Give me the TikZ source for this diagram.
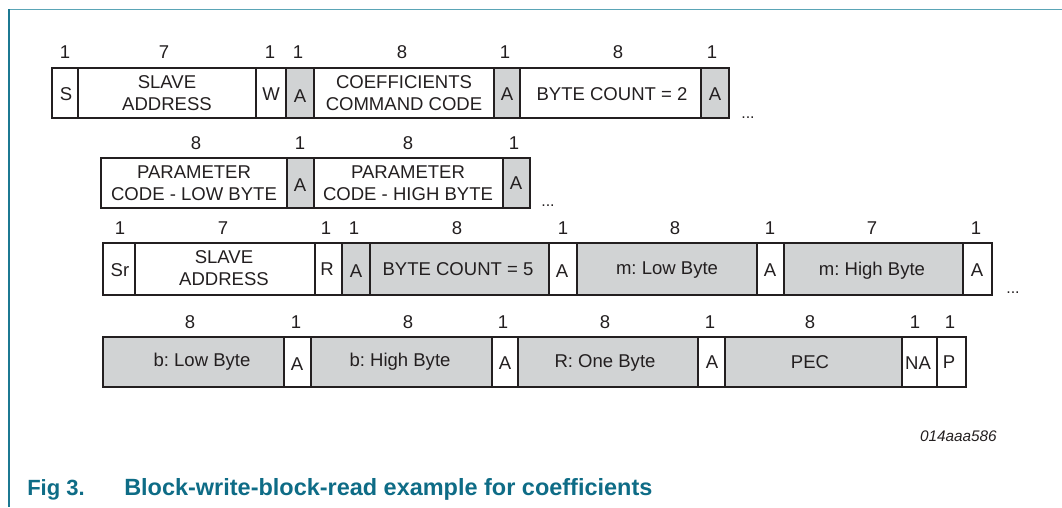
\documentclass[tikz,border=0pt]{standalone}
\usepackage{fontspec}
\usepackage{xcolor}
\usepackage{tikz}
\setmainfont{Liberation Sans}
\frenchspacing
\definecolor{inkgray}{RGB}{35, 31, 32}
\definecolor{ackgray}{RGB}{209, 211, 212}
\definecolor{capteal}{RGB}{14, 108, 134}
\definecolor{frameteal}{RGB}{28, 120, 146}
\definecolor{frametop}{RGB}{90, 165, 182}

\tikzset{
  fld/.style={draw=inkgray, line width=1.5pt},
  grayfld/.style={fld, fill=ackgray},
  lbl/.style={font=\fontsize{13.9}{16.5}\selectfont, align=center, inner sep=0.75pt, text=inkgray},
  bitlbl/.style={font=\fontsize{13.9}{16.5}\selectfont, inner sep=0.75pt, text=inkgray},
  dotlbl/.style={font=\fontsize{12}{14}\selectfont, inner sep=0pt, anchor=base, text=inkgray},
}

\begin{document}
\begin{tikzpicture}[x=0.75pt,y=0.75pt,yscale=-1,xscale=1]
\useasboundingbox (0,0) rectangle (1062,507);

%Frame
\draw [frametop, line width=1.2pt] (9,9.5) -- (1062,9.5) ;
\draw [frameteal, line width=1.2pt] (9,9) -- (9,507) ;

%Row 1: write part
\draw [fld]     (52,68) rectangle (78,118) ;
\draw [fld]     (78,68) rectangle (256,118) ;
\draw [fld]     (256,68) rectangle (286,118) ;
\draw [grayfld] (286,68) rectangle (314,118) ;
\draw [fld]     (314,68) rectangle (494,118) ;
\draw [grayfld] (494,68) rectangle (520,118) ;
\draw [fld]     (520,68) rectangle (701,118) ;
\draw [grayfld] (701,68) rectangle (729,118) ;

%Row 2
\draw [fld]     (101,158) rectangle (287,208) ;
\draw [grayfld] (287,158) rectangle (314,208) ;
\draw [fld]     (314,158) rectangle (503,208) ;
\draw [grayfld] (503,158) rectangle (530,208) ;

%Row 3: read part
\draw [fld]     (103,243) rectangle (135,295) ;
\draw [fld]     (135,243) rectangle (315,295) ;
\draw [fld]     (315,243) rectangle (342,295) ;
\draw [grayfld] (342,243) rectangle (370,295) ;
\draw [grayfld] (370,243) rectangle (549,295) ;
\draw [fld]     (549,243) rectangle (577,295) ;
\draw [grayfld] (577,243) rectangle (757,295) ;
\draw [fld]     (757,243) rectangle (784,295) ;
\draw [grayfld] (784,243) rectangle (963,295) ;
\draw [fld]     (963,243) rectangle (992,295) ;

%Row 4
\draw [grayfld] (103,337) rectangle (284,387) ;
\draw [fld]     (284,337) rectangle (311,387) ;
\draw [grayfld] (311,337) rectangle (492,387) ;
\draw [fld]     (492,337) rectangle (518,387) ;
\draw [grayfld] (518,337) rectangle (698,387) ;
\draw [fld]     (698,337) rectangle (725,387) ;
\draw [grayfld] (725,337) rectangle (902,387) ;
\draw [fld]     (902,337) rectangle (937,387) ;
\draw [fld]     (937,337) rectangle (966,387) ;

% Text Node
\node [lbl] (start) at (66,94) {S};
\node [lbl] (waddr) at (167,93) {SLAVE\\ADDRESS};
\node [lbl] (wbit) at (271,94) {W};
\node [lbl] (wack1) at (300,96) {A};
\node [lbl] (cmd) at (404,93) {COEFFICIENTS\\COMMAND CODE};
\node [lbl] (wack2) at (507,94) {A};
\node [lbl] (wcnt) at (612,94) {BYTE COUNT = 2};
\node [lbl] (wack3) at (715,94) {A};
\node [dotlbl] (wdots1) at (748,118) {...};

% Text Node
\node [lbl] (parlo) at (194,183) {PARAMETER\\CODE - LOW BYTE};
\node [lbl] (wack4) at (300,185) {A};
\node [lbl] (parhi) at (408,183) {PARAMETER\\CODE - HIGH BYTE};
\node [lbl] (wack5) at (516,183) {A};
\node [dotlbl] (wdots2) at (548,206) {...};

% Text Node
\node [lbl] (rstart) at (120,270) {Sr};
\node [lbl] (raddr) at (224,268) {SLAVE\\ADDRESS};
\node [lbl] (rbit) at (327,269) {R};
\node [lbl] (rack1) at (356,271) {A};
\node [lbl] (rcnt) at (458,269) {BYTE COUNT = 5};
\node [lbl] (mack1) at (562,271) {A};
\node [lbl] (mlo) at (667,270) {m: Low Byte};
\node [lbl] (mack2) at (770,270) {A};
\node [lbl] (mhi) at (872,271) {m: High Byte};
\node [lbl] (mack3) at (977,270) {A};
\node [dotlbl] (rdots) at (1013,293) {...};

% Text Node
\node [lbl] (blo) at (202,362) {b: Low Byte};
\node [lbl] (back1) at (297,364) {A};
\node [lbl] (bhi) at (400,362) {b: High Byte};
\node [lbl] (back2) at (505,363) {A};
\node [lbl] (rone) at (605,363) {R: One Byte};
\node [lbl] (back3) at (712,362) {A};
\node [lbl] (pec) at (810,362) {PEC};
\node [lbl] (nack) at (918,363) {NA};
\node [lbl] (stop) at (949,362) {P};

% Bit counts
\node [bitlbl] (n11) at (65,52) {1};
\node [bitlbl] (n12) at (164,52) {7};
\node [bitlbl] (n13) at (270,52) {1};
\node [bitlbl] (n14) at (298,52) {1};
\node [bitlbl] (n15) at (402,52) {8};
\node [bitlbl] (n16) at (505,52) {1};
\node [bitlbl] (n17) at (618,52) {8};
\node [bitlbl] (n18) at (712,52) {1};

\node [bitlbl] (n21) at (196,143) {8};
\node [bitlbl] (n22) at (300,143) {1};
\node [bitlbl] (n23) at (408,143) {8};
\node [bitlbl] (n24) at (514,143) {1};

\node [bitlbl] (n31) at (120,228) {1};
\node [bitlbl] (n32) at (223,228) {7};
\node [bitlbl] (n33) at (326,228) {1};
\node [bitlbl] (n34) at (354,228) {1};
\node [bitlbl] (n35) at (457,228) {8};
\node [bitlbl] (n36) at (563,228) {1};
\node [bitlbl] (n37) at (675,228) {8};
\node [bitlbl] (n38) at (770,228) {1};
\node [bitlbl] (n39) at (872,228) {7};
\node [bitlbl] (n310) at (976,228) {1};

\node [bitlbl] (n41) at (190,322) {8};
\node [bitlbl] (n42) at (296,322) {1};
\node [bitlbl] (n43) at (408,322) {8};
\node [bitlbl] (n44) at (503,322) {1};
\node [bitlbl] (n45) at (605,322) {8};
\node [bitlbl] (n46) at (710,322) {1};
\node [bitlbl] (n47) at (810,322) {8};
\node [bitlbl] (n48) at (915,322) {1};
\node [bitlbl] (n49) at (950,322) {1};

% Figure id and caption
\node [anchor=base east, inner sep=0pt, font=\fontsize{11.5}{13}\selectfont\itshape, text=inkgray] (figid) at (997,441) {014aaa586};
\node [anchor=base west, inner sep=0pt, font=\fontsize{16.5}{20}\selectfont\bfseries, text=capteal] (fignum) at (27,495) {Fig 3.};
\node [anchor=base west, inner sep=0pt, font=\fontsize{17.6}{20}\selectfont\bfseries, text=capteal] (figtitle) at (124,495) {Block-write-block-read example for coefficients};

\end{tikzpicture}
\end{document}
